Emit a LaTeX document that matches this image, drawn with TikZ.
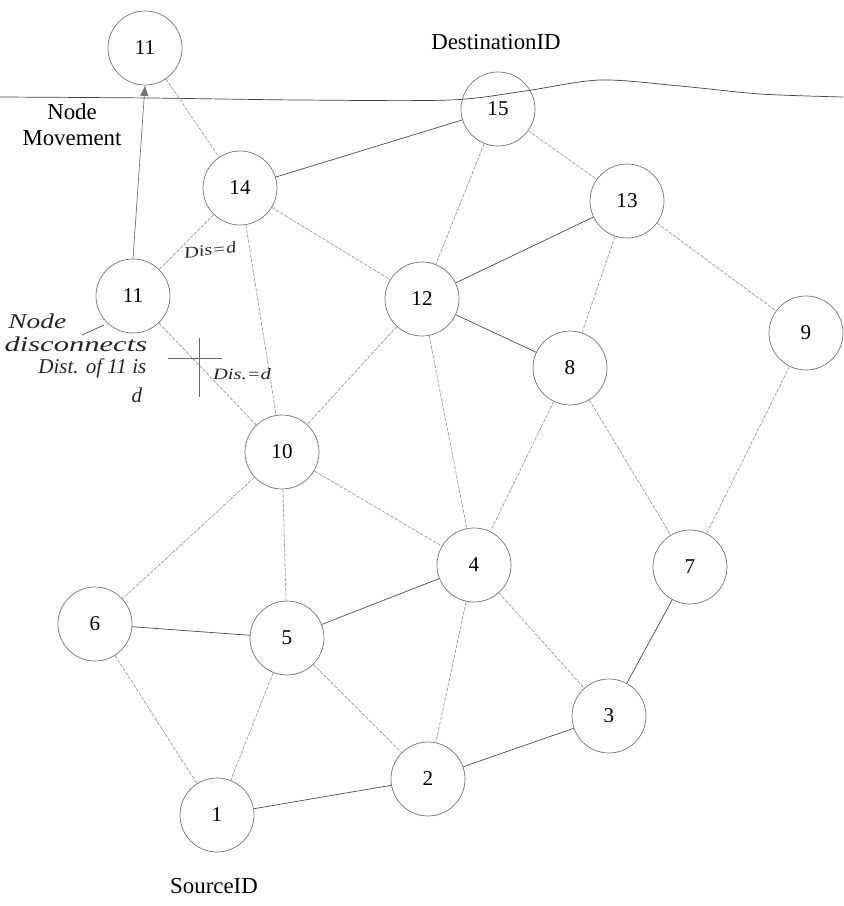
\documentclass[tikz,border=0pt]{standalone}
\usepackage{fontspec}
\setmainfont{Liberation Serif}
\usetikzlibrary{arrows.meta}

\begin{document}
\begin{tikzpicture}[x=0.02cm, y=-0.02cm,
  mnode/.style={circle, draw=black!55, thin, minimum size=1.48cm, inner sep=0pt,
                font=\fontsize{12}{14}\selectfont},
  link/.style={draw=black!40, thin, dash pattern=on 2pt off 0.8pt},
  blink/.style={draw=black!70, thin},
  note/.style={font=\fontsize{13}{15}\selectfont, align=center},
  hand/.style={font=\fontsize{12}{12}\selectfont\itshape, text=black!85, inner sep=0pt},
  shand/.style={font=\fontsize{9}{9}\selectfont\itshape, text=black!85, inner sep=0pt}
]
\useasboundingbox (0,0) rectangle (843,906);

%% ---- boundary line ----
\draw[black!75, thin] plot[smooth] coordinates {(0,97) (150,98) (300,100) (450,100)
  (525,91) (600,80) (680,86) (760,94) (843,97)};

%% ---- NODES ----
\node[mnode] at (145, 48) (n11a) {11};
\node[mnode] at (498,109) (n15)  {15};
\node[mnode] at (240,188) (n14)  {14};
\node[mnode] at (627,201) (n13)  {13};
\node[mnode] at (133,296) (n11)  {11};
\node[mnode] at (422,299) (n12)  {12};
\node[mnode] at (806,333) (n9)   {9};
\node[mnode] at (570,368) (n8)   {8};
\node[mnode] at (282,452) (n10)  {10};
\node[mnode] at (474,565) (n4)   {4};
\node[mnode] at (690,567) (n7)   {7};
\node[mnode] at ( 95,624) (n6)   {6};
\node[mnode] at (287,638) (n5)   {5};
\node[mnode] at (609,716) (n3)   {3};
\node[mnode] at (428,779) (n2)   {2};
\node[mnode] at (217,815) (n1)   {1};

%% ---- LINKS ----
\draw[link]  (n11a) -- (n14);
\draw[blink] (n15) -- (n14);
\draw[link]  (n15) -- (n12);
\draw[link]  (n15) -- (n13);
\draw[link]  (n14) -- (n11);
\draw[link]  (n14) -- (n12);
\draw[link]  (n14) -- (n10);
\draw[blink] (n13) -- (n12);
\draw[link]  (n13) -- (n8);
\draw[link]  (n13) -- (n9);
\draw[link]  (n11) -- (n10);
\draw[link]  (n12) -- (n10);
\draw[blink] (n12) -- (n8);
\draw[link]  (n12) -- (n4);
\draw[link]  (n9)  -- (n7);
\draw[link]  (n8)  -- (n4);
\draw[link]  (n8)  -- (n7);
\draw[link]  (n10) -- (n6);
\draw[link]  (n10) -- (n5);
\draw[link]  (n10) -- (n4);
\draw[blink] (n4)  -- (n5);
\draw[link]  (n4)  -- (n2);
\draw[link]  (n4)  -- (n3);
\draw[blink] (n7)  -- (n3);
\draw[blink] (n6)  -- (n5);
\draw[link]  (n6)  -- (n1);
\draw[link]  (n5)  -- (n1);
\draw[link]  (n5)  -- (n2);
\draw[blink] (n1)  -- (n2);
\draw[blink] (n2)  -- (n3);

%% ---- node movement ----
\draw[black!55, thin, -{Latex[length=6pt,width=5pt]}] (n11.north) -- (n11a.south);

%% ---- break mark on 11--10 ----
\draw[black!60] (168,358) -- (222,358);
\draw[black!60] (199,338) -- (199,397);
\draw[black!70] (82,335) -- (104,325);

%% ---- labels ----
\node[note] at (496, 42) (dst) {DestinationID};
\node[note] at ( 72,125) (mov) {Node\\Movement};
\node[note] at (214,886) (src) {SourceID};
\node[shand, xscale=1.3, transform shape, rotate=8] at (210,250) (d1) {Dis=d};
\node[shand, xscale=1.3, transform shape] at (242,374) (d2) {Dis.=d};
\node[hand, xscale=1.3, transform shape, anchor=west] at (8,321) (h1) {Node};
\node[hand, xscale=1.45, transform shape, anchor=west] at (4,344) (h2) {disconnects};
\node[hand, anchor=west] at (38,368) (h3) {Dist. of 11 is};
\node[hand] at (137,395) (h4) {d};
\end{tikzpicture}
\end{document}
